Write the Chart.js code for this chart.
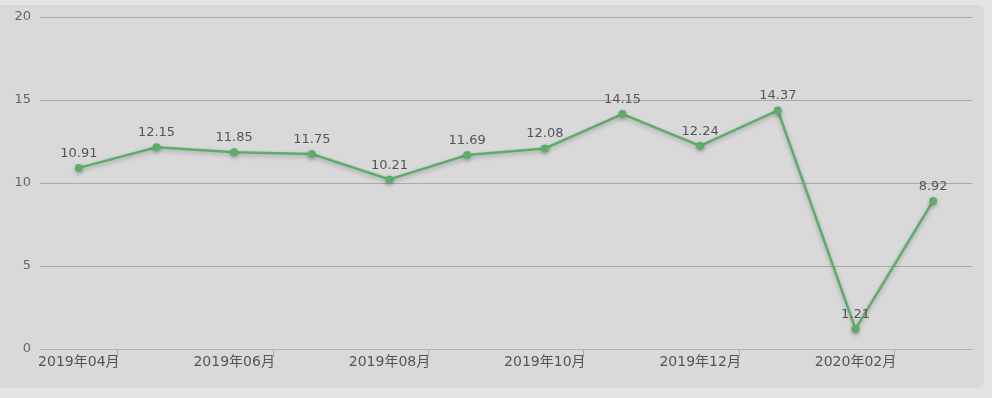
<!DOCTYPE html>
<html>
<head>
<meta charset="utf-8">
<script src="https://cdn.jsdelivr.net/npm/chart.js@4"></script>
<style>
  html, body { margin: 0; padding: 0; background: #e4e4e4; }
  #panel { position: absolute; left: -6px; top: 5px; width: 990px; height: 383px; background: #d9d9d9; border-radius: 6px; }
  #wrap { position: absolute; left: 0; top: 0; width: 992px; height: 398px; }
</style>
</head>
<body>
<div id="panel"></div>
<div id="wrap"><canvas id="c" width="992" height="398"></canvas></div>
<script>
const categories = ['2019年04月','2019年05月','2019年06月','2019年07月','2019年08月','2019年09月','2019年10月','2019年11月','2019年12月','2020年01月','2020年02月','2020年03月'];
const values = [10.91, 12.15, 11.85, 11.75, 10.21, 11.69, 12.08, 14.15, 12.24, 14.37, 1.21, 8.92];
const yTicks = [0, 5, 10, 15, 20];

const LINE_COLOR = '#5cad69';
const FONT = '"DejaVu Sans", "Noto Sans CJK SC", sans-serif';

const labelPlugin = {
  id: 'valueLabels',
  afterDatasetsDraw(chart) {
    const ctx = chart.ctx;
    const meta = chart.getDatasetMeta(0);
    ctx.save();
    ctx.font = '13px ' + FONT;
    ctx.fillStyle = '#555555';
    ctx.textAlign = 'center';
    ctx.textBaseline = 'alphabetic';
    meta.data.forEach((pt, i) => {
      ctx.fillText(values[i].toFixed(2), pt.x, pt.y - 11);
    });
    ctx.restore();
  }
};

const shadowPlugin = {
  id: 'lineShadow',
  beforeDatasetDraw(chart) {
    const ctx = chart.ctx;
    ctx.save();
    ctx.shadowColor = 'rgba(0,0,0,0.25)';
    ctx.shadowBlur = 4;
    ctx.shadowOffsetY = 2;
  },
  afterDatasetDraw(chart) {
    chart.ctx.restore();
  }
};

new Chart(document.getElementById('c'), {
  type: 'line',
  data: {
    labels: categories,
    datasets: [{
      data: values,
      borderColor: LINE_COLOR,
      backgroundColor: LINE_COLOR,
      borderWidth: 2.5,
      pointRadius: 4,
      pointBackgroundColor: LINE_COLOR,
      pointBorderColor: LINE_COLOR,
      pointBorderWidth: 0,
      tension: 0,
      fill: false
    }]
  },
  options: {
    responsive: false,
    animation: false,
    devicePixelRatio: 1,
    layout: { padding: { top: 17, right: 20, left: 0, bottom: 0 } },
    plugins: {
      legend: { display: false },
      tooltip: { enabled: false }
    },
    scales: {
      x: {
        offset: true,
        border: { display: true, color: '#a9b7c6', width: 1 },
        grid: {
          offset: true,
          display: true,
          drawOnChartArea: false,
          drawTicks: true,
          tickLength: 8,
          lineWidth: 1,
          color: (c) => (c.index % 2 === 1 ? '#9eabb9' : 'rgba(0,0,0,0)')
        },
        ticks: {
          autoSkip: false,
          maxRotation: 0,
          color: '#555555',
          font: { size: 14, family: FONT },
          padding: -3,
          callback: function(v, i) { return i % 2 === 0 ? categories[i] : ''; }
        },
        afterFit(scale) { scale.height = 49; }
      },
      y: {
        min: 0,
        max: 20,
        afterBuildTicks(scale) { scale.ticks = yTicks.map(v => ({ value: v })); },
        border: { display: false },
        grid: {
          color: '#a8a8a8',
          lineWidth: 1,
          drawTicks: false
        },
        ticks: {
          color: '#666666',
          font: { size: 13, family: FONT },
          padding: 9
        },
        afterFit(scale) { scale.width = 40; }
      }
    }
  },
  plugins: [shadowPlugin, labelPlugin]
});
</script>
</body>
</html>
